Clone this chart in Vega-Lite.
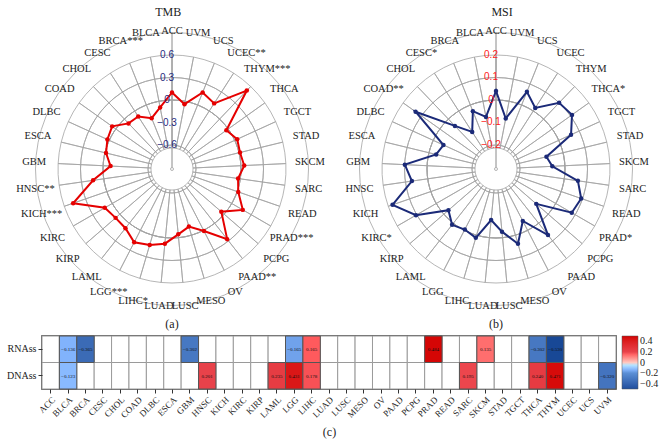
{
  "$schema": "https://vega.github.io/schema/vega-lite/v6.json",
  "background": "white",
  "padding": 5,
  "config": {"view": {"stroke": null}, "font": "Liberation Serif"},
  "datasets": {
    "radar": [
      {"cancer": "ACC", "TMB": 0.10, "MSI": 0.04, "la": "ACC", "lb": "ACC"},
      {"cancer": "BLCA", "TMB": -0.084, "MSI": -0.071, "la": "BLCA", "lb": "BLCA"},
      {"cancer": "BRCA", "TMB": -0.19, "MSI": -0.03, "la": "BRCA***", "lb": "BRCA"},
      {"cancer": "CESC", "TMB": -0.087, "MSI": -0.111, "la": "CESC", "lb": "CESC*"},
      {"cancer": "CHOL", "TMB": -0.08, "MSI": -0.042, "la": "CHOL", "lb": "CHOL"},
      {"cancer": "COAD", "TMB": 0.06, "MSI": 0.132, "la": "COAD", "lb": "COAD**"},
      {"cancer": "DLBC", "TMB": 0.027, "MSI": -0.05, "la": "DLBC", "lb": "DLBC"},
      {"cancer": "ESCA", "TMB": -0.015, "MSI": -0.033, "la": "ESCA", "lb": "ESCA"},
      {"cancer": "GBM", "TMB": -0.10, "MSI": 0.099, "la": "GBM", "lb": "GBM"},
      {"cancer": "HNSC", "TMB": 0.143, "MSI": 0.071, "la": "HNSC**", "lb": "HNSC"},
      {"cancer": "KICH", "TMB": 0.475, "MSI": 0.18, "la": "KICH***", "lb": "KICH"},
      {"cancer": "KIRC", "TMB": 0.115, "MSI": 0.104, "la": "KIRC", "lb": "KIRC*"},
      {"cancer": "KIRP", "TMB": 0.075, "MSI": -0.027, "la": "KIRP", "lb": "KIRP"},
      {"cancer": "LAML", "TMB": 0.084, "MSI": 0.009, "la": "LAML", "lb": "LAML"},
      {"cancer": "LGG", "TMB": 0.18, "MSI": -0.004, "la": "LGG***", "lb": "LGG"},
      {"cancer": "LIHC", "TMB": 0.135, "MSI": 0.012, "la": "LIHC*", "lb": "LIHC"},
      {"cancer": "LUAD", "TMB": 0.08, "MSI": -0.079, "la": "LUAD", "lb": "LUAD"},
      {"cancer": "LUSC", "TMB": -0.045, "MSI": -0.027, "la": "LUSC", "lb": "LUSC"},
      {"cancer": "MESO", "TMB": -0.12, "MSI": 0.04, "la": "MESO", "lb": "MESO"},
      {"cancer": "OV", "TMB": 0.01, "MSI": -0.047, "la": "OV", "lb": "OV"},
      {"cancer": "PAAD", "TMB": 0.27, "MSI": 0.067, "la": "PAAD**", "lb": "PAAD"},
      {"cancer": "PCPG", "TMB": -0.05, "MSI": -0.07, "la": "PCPG", "lb": "PCPG"},
      {"cancer": "PRAD", "TMB": 0.17, "MSI": 0.082, "la": "PRAD***", "lb": "PRAD*"},
      {"cancer": "READ", "TMB": 0.015, "MSI": 0.094, "la": "READ", "lb": "READ"},
      {"cancer": "SARC", "TMB": -0.03, "MSI": 0.061, "la": "SARC", "lb": "SARC"},
      {"cancer": "SKCM", "TMB": 0.044, "MSI": -0.056, "la": "SKCM", "lb": "SKCM"},
      {"cancer": "STAD", "TMB": 0.013, "MSI": -0.076, "la": "STAD", "lb": "STAD"},
      {"cancer": "TGCT", "TMB": 0.036, "MSI": 0.06, "la": "TGCT", "lb": "TGCT"},
      {"cancer": "THCA", "TMB": -0.03, "MSI": 0.108, "la": "THCA", "lb": "THCA*"},
      {"cancer": "THYM", "TMB": 0.525, "MSI": 0.10, "la": "THYM***", "lb": "THYM"},
      {"cancer": "UCEC", "TMB": 0.12, "MSI": 0.016, "la": "UCEC**", "lb": "UCEC"},
      {"cancer": "UCS", "TMB": 0.18, "MSI": 0.063, "la": "UCS", "lb": "UCS"},
      {"cancer": "UVM", "TMB": -0.04, "MSI": -0.078, "la": "UVM", "lb": "UVM"}
    ],
    "ringsA": [{"v": -0.6}, {"v": -0.3}, {"v": 0}, {"v": 0.3}, {"v": 0.6}],
    "ringsB": [{"v": -0.2}, {"v": -0.1}, {"v": 0}, {"v": 0.1}, {"v": 0.2}],
    "heat": [
      {"cancer": "ACC", "RNAss": null, "DNAss": null},
      {"cancer": "BLCA", "RNAss": -0.136, "DNAss": -0.123},
      {"cancer": "BRCA", "RNAss": -0.365, "DNAss": null},
      {"cancer": "CESC", "RNAss": null, "DNAss": null},
      {"cancer": "CHOL", "RNAss": null, "DNAss": null},
      {"cancer": "COAD", "RNAss": null, "DNAss": null},
      {"cancer": "DLBC", "RNAss": null, "DNAss": null},
      {"cancer": "ESCA", "RNAss": null, "DNAss": null},
      {"cancer": "GBM", "RNAss": -0.302, "DNAss": null},
      {"cancer": "HNSC", "RNAss": null, "DNAss": 0.201},
      {"cancer": "KICH", "RNAss": null, "DNAss": null},
      {"cancer": "KIRC", "RNAss": null, "DNAss": null},
      {"cancer": "KIRP", "RNAss": null, "DNAss": null},
      {"cancer": "LAML", "RNAss": null, "DNAss": 0.235},
      {"cancer": "LGG", "RNAss": -0.165, "DNAss": 0.431},
      {"cancer": "LIHC", "RNAss": 0.165, "DNAss": 0.178},
      {"cancer": "LUAD", "RNAss": null, "DNAss": null},
      {"cancer": "LUSC", "RNAss": null, "DNAss": null},
      {"cancer": "MESO", "RNAss": null, "DNAss": null},
      {"cancer": "OV", "RNAss": null, "DNAss": null},
      {"cancer": "PAAD", "RNAss": null, "DNAss": null},
      {"cancer": "PCPG", "RNAss": null, "DNAss": null},
      {"cancer": "PRAD", "RNAss": 0.484, "DNAss": null},
      {"cancer": "READ", "RNAss": null, "DNAss": null},
      {"cancer": "SARC", "RNAss": null, "DNAss": 0.195},
      {"cancer": "SKCM", "RNAss": 0.135, "DNAss": null},
      {"cancer": "STAD", "RNAss": null, "DNAss": null},
      {"cancer": "TGCT", "RNAss": null, "DNAss": null},
      {"cancer": "THCA", "RNAss": -0.302, "DNAss": 0.240},
      {"cancer": "THYM", "RNAss": -0.530, "DNAss": 0.471},
      {"cancer": "UCEC", "RNAss": null, "DNAss": null},
      {"cancer": "UCS", "RNAss": null, "DNAss": null},
      {"cancer": "UVM", "RNAss": null, "DNAss": -0.320}
    ]
  },
  "spacing": 2,
  "resolve": {"scale": {"color": "independent"}, "legend": {"color": "independent"}},
  "vconcat": [
    {
      "spacing": 44,
      "bounds": "flush",
      "hconcat": [
        {
          "width": 260,
          "height": 326,
          "resolve": {"scale": {"theta": "independent"}},
          "layer": [
            {
              "data": {"name": "radar"},
              "mark": {"type": "arc", "filled": false, "stroke": "#a3a3a3", "strokeWidth": 0.8},
              "encoding": {
                "theta": {"aggregate": "count", "type": "quantitative", "stack": true, "scale": {"domain": [0, 33], "range": [0, 6.283185307]}},
                "detail": {"field": "cancer", "type": "nominal"},
                "radius": {"datum": 0.6, "type": "quantitative", "scale": {"type": "linear", "domain": [-0.92, 0.6], "range": [0, 114], "zero": false, "nice": false}},
                "radius2": {"datum": -0.64}
              }
            },
            {
              "data": {"name": "ringsA"},
              "mark": {"type": "arc", "filled": false, "stroke": "#a3a3a3", "strokeWidth": 0.8, "theta": 0, "theta2": 6.283185307},
              "encoding": {
                "radius": {"field": "v", "type": "quantitative", "scale": {"type": "linear", "domain": [-0.92, 0.6], "range": [0, 114], "zero": false, "nice": false}}
              }
            },
            {
              "data": {"name": "radar"},
              "transform": [
                {"window": [{"op": "row_number", "as": "n"}]},
                {"calculate": "(datum.TMB + 0.92) * -sin(2 * PI * (datum.n - 1) / 33)", "as": "px"},
                {"calculate": "(datum.TMB + 0.92) * cos(2 * PI * (datum.n - 1) / 33)", "as": "py"}
              ],
              "mark": {"type": "line", "interpolate": "linear-closed", "color": "#e50000", "strokeWidth": 2},
              "encoding": {
                "x": {"field": "px", "type": "quantitative", "scale": {"domain": [-1.7333, 1.7333], "nice": false, "zero": false}, "axis": null},
                "y": {"field": "py", "type": "quantitative", "scale": {"domain": [-2.1733, 2.1733], "nice": false, "zero": false}, "axis": null},
                "order": {"field": "n", "type": "quantitative"}
              }
            },
            {
              "data": {"name": "radar"},
              "transform": [
                {"window": [{"op": "row_number", "as": "n"}]},
                {"calculate": "(datum.TMB + 0.92) * -sin(2 * PI * (datum.n - 1) / 33)", "as": "px"},
                {"calculate": "(datum.TMB + 0.92) * cos(2 * PI * (datum.n - 1) / 33)", "as": "py"}
              ],
              "mark": {"type": "point", "filled": true, "color": "#e50000", "size": 20, "opacity": 1},
              "encoding": {
                "x": {"field": "px", "type": "quantitative", "axis": null},
                "y": {"field": "py", "type": "quantitative", "axis": null}
              }
            },
            {
              "data": {"name": "radar"},
              "transform": [{"window": [{"op": "row_number", "as": "n"}]}],
              "mark": {"type": "text", "radius": 138, "fontSize": 10.5, "font": "Liberation Serif", "color": "#222222"},
              "encoding": {
                "theta": {"field": "n", "type": "quantitative", "scale": {"domain": [1, 34], "range": [6.283185307, 0]}},
                "text": {"field": "la", "type": "nominal"}
              }
            },
            {
              "data": {"name": "ringsA"},
              "mark": {"type": "text", "font": "Liberation Sans", "fontSize": 10, "color": "#1f2a80", "dx": -5},
              "encoding": {
                "theta": {"value": 0},
                "radius": {"field": "v", "type": "quantitative", "scale": {"type": "linear", "domain": [-0.92, 0.6], "range": [0, 114], "zero": false, "nice": false}},
                "text": {"field": "v", "type": "quantitative", "format": ""}
              }
            },
            {
              "data": {"values": [{"t": "TMB"}]},
              "mark": {"type": "text", "fontSize": 12, "font": "Liberation Serif", "color": "#222222"},
              "encoding": {
                "x": {"datum": -0.05, "type": "quantitative"},
                "y": {"datum": 2.0933, "type": "quantitative"},
                "text": {"field": "t", "type": "nominal"}
              }
            },
            {
              "data": {"values": [{"t": "(a)"}]},
              "mark": {"type": "text", "fontSize": 12, "font": "Liberation Serif", "color": "#222222"},
              "encoding": {
                "x": {"datum": 0, "type": "quantitative"},
                "y": {"datum": -2.067, "type": "quantitative"},
                "text": {"field": "t", "type": "nominal"}
              }
            }
          ]
        },
        {
          "width": 300,
          "height": 326,
          "resolve": {"scale": {"theta": "independent"}},
          "layer": [
            {
              "data": {"name": "radar"},
              "mark": {"type": "arc", "filled": false, "stroke": "#a3a3a3", "strokeWidth": 0.8},
              "encoding": {
                "theta": {"aggregate": "count", "type": "quantitative", "stack": true, "scale": {"domain": [0, 33], "range": [0, 6.283185307]}},
                "detail": {"field": "cancer", "type": "nominal"},
                "radius": {"datum": 0.2, "type": "quantitative", "scale": {"type": "linear", "domain": [-0.30667, 0.2], "range": [0, 114], "zero": false, "nice": false}},
                "radius2": {"datum": -0.2133}
              }
            },
            {
              "data": {"name": "ringsB"},
              "mark": {"type": "arc", "filled": false, "stroke": "#a3a3a3", "strokeWidth": 0.8, "theta": 0, "theta2": 6.283185307},
              "encoding": {
                "radius": {"field": "v", "type": "quantitative", "scale": {"type": "linear", "domain": [-0.30667, 0.2], "range": [0, 114], "zero": false, "nice": false}}
              }
            },
            {
              "data": {"name": "radar"},
              "transform": [
                {"window": [{"op": "row_number", "as": "n"}]},
                {"calculate": "(datum.MSI + 0.30667) * -sin(2 * PI * (datum.n - 1) / 33)", "as": "px"},
                {"calculate": "(datum.MSI + 0.30667) * cos(2 * PI * (datum.n - 1) / 33)", "as": "py"}
              ],
              "mark": {"type": "line", "interpolate": "linear-closed", "color": "#1b2a78", "strokeWidth": 2},
              "encoding": {
                "x": {"field": "px", "type": "quantitative", "scale": {"domain": [-0.66667, 0.66667], "nice": false, "zero": false}, "axis": null},
                "y": {"field": "py", "type": "quantitative", "scale": {"domain": [-0.72444, 0.72444], "nice": false, "zero": false}, "axis": null},
                "order": {"field": "n", "type": "quantitative"}
              }
            },
            {
              "data": {"name": "radar"},
              "transform": [
                {"window": [{"op": "row_number", "as": "n"}]},
                {"calculate": "(datum.MSI + 0.30667) * -sin(2 * PI * (datum.n - 1) / 33)", "as": "px"},
                {"calculate": "(datum.MSI + 0.30667) * cos(2 * PI * (datum.n - 1) / 33)", "as": "py"}
              ],
              "mark": {"type": "point", "filled": true, "color": "#1b2a78", "size": 20, "opacity": 1},
              "encoding": {
                "x": {"field": "px", "type": "quantitative", "axis": null},
                "y": {"field": "py", "type": "quantitative", "axis": null}
              }
            },
            {
              "data": {"name": "radar"},
              "transform": [{"window": [{"op": "row_number", "as": "n"}]}],
              "mark": {"type": "text", "radius": 138, "fontSize": 10.5, "font": "Liberation Serif", "color": "#222222"},
              "encoding": {
                "theta": {"field": "n", "type": "quantitative", "scale": {"domain": [1, 34], "range": [6.283185307, 0]}},
                "text": {"field": "lb", "type": "nominal"}
              }
            },
            {
              "data": {"name": "ringsB"},
              "mark": {"type": "text", "font": "Liberation Sans", "fontSize": 10, "color": "#ff1a1a", "dx": -5},
              "encoding": {
                "theta": {"value": 0},
                "radius": {"field": "v", "type": "quantitative", "scale": {"type": "linear", "domain": [-0.30667, 0.2], "range": [0, 114], "zero": false, "nice": false}},
                "text": {"field": "v", "type": "quantitative", "format": ""}
              }
            },
            {
              "data": {"values": [{"t": "MSI"}]},
              "mark": {"type": "text", "fontSize": 12, "font": "Liberation Serif", "color": "#222222"},
              "encoding": {
                "x": {"datum": 0.027, "type": "quantitative"},
                "y": {"datum": 0.6978, "type": "quantitative"},
                "text": {"field": "t", "type": "nominal"}
              }
            },
            {
              "data": {"values": [{"t": "(b)"}]},
              "mark": {"type": "text", "fontSize": 12, "font": "Liberation Serif", "color": "#222222"},
              "encoding": {
                "x": {"datum": 0, "type": "quantitative"},
                "y": {"datum": -0.6889, "type": "quantitative"},
                "text": {"field": "t", "type": "nominal"}
              }
            }
          ]
        }
      ]
    },
    {
      "width": 574,
      "height": 53,
      "view": {"stroke": "#222222", "strokeWidth": 1.5},
      "data": {"name": "heat"},
      "transform": [{"fold": ["RNAss", "DNAss"], "as": ["type", "value"]}],
      "encoding": {
        "x": {
          "field": "cancer", "type": "nominal",
          "axis": {"labelAngle": -45, "labelFont": "Liberation Serif", "labelFontSize": 9, "labelColor": "#222222", "title": "(c)", "titleFont": "Liberation Serif", "titleFontWeight": "normal", "titleFontSize": 12, "titleColor": "#222222", "titlePadding": 6, "domain": false, "tickColor": "#333333", "tickSize": 4}
        },
        "y": {
          "field": "type", "type": "nominal", "sort": ["RNAss", "DNAss"],
          "axis": {"title": null, "labelFont": "Liberation Serif", "labelFontSize": 10, "labelColor": "#222222", "domain": false, "tickColor": "#333333", "tickSize": 4}
        }
      },
      "layer": [
        {"mark": {"type": "rect", "fill": "white", "stroke": "#9a9a9a", "strokeWidth": 1}},
        {
          "transform": [{"filter": "isValid(datum.value)"}],
          "mark": {"type": "rect", "stroke": "#555555", "strokeWidth": 1},
          "encoding": {
            "color": {
              "field": "value", "type": "quantitative",
              "scale": {"domain": [-0.5, -0.2, 0, 0.2, 0.5], "range": ["#1f4e9c", "#5b8fd6", "#ffffff", "#e8424a", "#d40000"]},
              "legend": {"title": null, "offset": 6, "padding": 0, "gradientLength": 53, "gradientThickness": 16, "values": [0.4, 0.2, 0, -0.2, -0.4], "format": "", "labelFont": "Liberation Serif", "labelFontSize": 10, "labelColor": "#222222", "labelOverlap": false, "gradientStrokeColor": "#555555", "gradientStrokeWidth": 0.5}
            }
          }
        },
        {
          "transform": [{"filter": "isValid(datum.value)"}],
          "mark": {"type": "text", "fontSize": 5, "font": "Liberation Serif", "color": "#111111"},
          "encoding": {"text": {"field": "value", "type": "quantitative", "format": ".3f"}}
        }
      ]
    }
  ]
}
